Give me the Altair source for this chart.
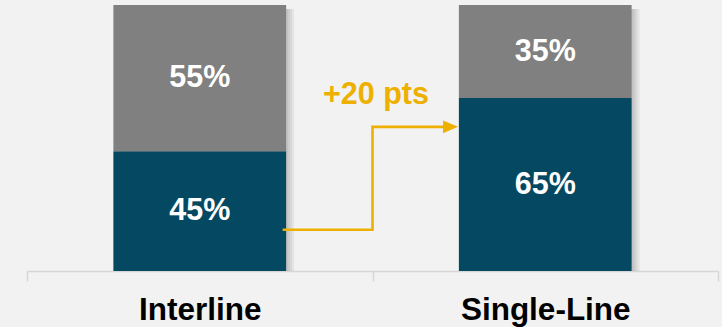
import altair as alt
import pandas as pd

# ---- data ----
categories = ["Interline", "Single-Line"]
segments = ["lower", "upper"]
lower_share = [45, 65]
upper_share = [55, 35]

# annotation arrow (x in band units: category centres at 0.5 and 1.5, bar half-width 0.25)
arrow_x = [0.74, 1.0, 1.0, 1.235]
arrow_y = [15.5, 15.5, 54.2, 54.2]
arrow_order = [0, 1, 2, 3]
head_x = [1.226]
head_y = [54.2]
note_x = [1.01]
note_y = [66.0]
note_text = ["+20 pts"]

# ---- tables ----
rows = []
for i, c in enumerate(categories):
    rows.append({"category": c, "segment": segments[0], "value": lower_share[i], "order": 0})
    rows.append({"category": c, "segment": segments[1], "value": upper_share[i], "order": 1})
bars_df = pd.DataFrame(rows)
arrow_df = pd.DataFrame({"x": arrow_x, "y": arrow_y, "o": arrow_order})
head_df = pd.DataFrame({"x": head_x, "y": head_y})
note_df = pd.DataFrame({"x": note_x, "y": note_y, "t": note_text})

DARK = "#044862"
GRAY = "#808080"
ORANGE = "#EEB000"
FONT = "Liberation Sans"

W = 691
STEP = W / 2  # band step (two categories)

x_scale = alt.Scale(domain=categories, paddingInner=0.5, paddingOuter=0.25)
y_scale = alt.Scale(domain=[0, 100])

x_axis = alt.Axis(
    title=None, labelAngle=0, labelFont=FONT, labelFontWeight="bold",
    labelFontSize=31.5, labelColor="black", domainColor="#D6D6D6", domainWidth=1.5,
    tickColor="#D6D6D6", tickWidth=1.5, tickSize=10,
    bandPosition=2, tickExtra=True, tickOffset=-STEP / 4, labelOffset=STEP / 4,
    labelPadding=38, labelBaseline="alphabetic", grid=False,
)

x_enc = alt.X("category:N", scale=x_scale, axis=x_axis)

base = alt.Chart(bars_df).transform_stack(
    stack="value", groupby=["category"], as_=["y0", "y1"],
    sort=[alt.SortField("order", order="ascending")]
).transform_calculate(mid="(datum.y0 + datum.y1) / 2", label="datum.value + '%'")

shadows = [
    alt.Chart(bars_df).transform_aggregate(total="sum(value)", groupby=["category"])
    .mark_bar(color="black", opacity=0.05, xOffset=k, yOffset=4, y2Offset=0).encode(
        x=x_enc,
        y=alt.Y("total:Q", scale=y_scale, axis=None, stack=None),
        y2=alt.datum(0),
    )
    for k in (2, 4, 6, 8)
]

bars = base.mark_bar().encode(
    x=x_enc,
    y=alt.Y("y0:Q", scale=y_scale, axis=None),
    y2="y1:Q",
    color=alt.Color("segment:N", scale=alt.Scale(domain=segments, range=[DARK, GRAY]), legend=None),
)

labels = base.mark_text(
    font=FONT, fontWeight="bold", fontSize=30.5, color="white", baseline="middle", align="center"
).encode(
    x=x_enc,
    y=alt.Y("mid:Q", scale=y_scale, axis=None),
    text="label:N",
)

qx = alt.Scale(domain=[0, 2])

arrow = alt.Chart(arrow_df).mark_line(color=ORANGE, strokeWidth=2.6, interpolate="linear").encode(
    x=alt.X("x:Q", scale=qx, axis=None),
    y=alt.Y("y:Q", scale=y_scale, axis=None),
    order="o:Q",
)

head = alt.Chart(head_df).mark_point(
    shape="M-1,-0.85L1,0L-1,0.85Z", filled=True, opacity=1, color=ORANGE, size=225
).encode(
    x=alt.X("x:Q", scale=qx, axis=None),
    y=alt.Y("y:Q", scale=y_scale, axis=None),
)

note = alt.Chart(note_df).mark_text(
    font=FONT, fontWeight="bold", fontSize=30.5, color=ORANGE, baseline="middle", align="center"
).encode(
    x=alt.X("x:Q", scale=qx, axis=None),
    y=alt.Y("y:Q", scale=y_scale, axis=None),
    text="t:N",
)

chart = alt.layer(
    alt.layer(*shadows, bars, labels),
    alt.layer(arrow, head, note),
).resolve_scale(x="independent").properties(
    width=W, height=266,
    autosize=alt.AutoSizeParams(type="none"),
    padding={"left": 27, "top": 5, "right": 4, "bottom": 56},
    background="#F2F2F2",
).configure_view(stroke=None)

chart.save("out.html", embed_options={"renderer": "svg", "actions": False})
